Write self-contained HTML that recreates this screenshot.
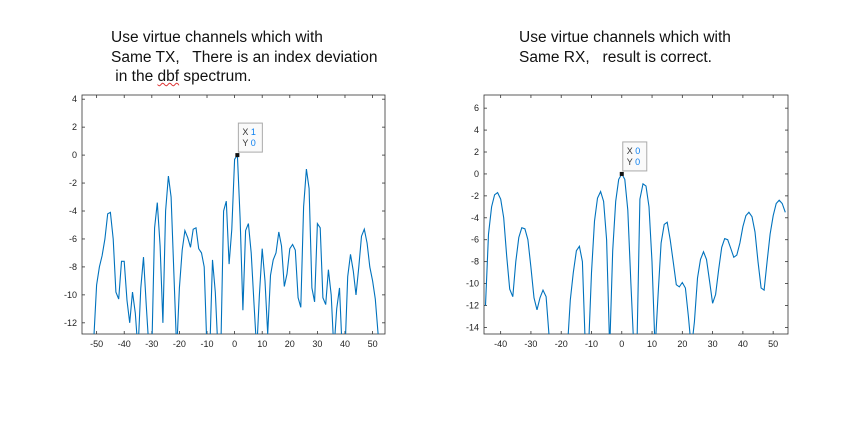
<!DOCTYPE html>
<html><head><meta charset="utf-8"><style>
body{margin:0;background:#fff;width:851px;height:421px;overflow:hidden;font-family:"Liberation Sans","Noto Sans CJK SC",sans-serif}
.t{position:absolute;font-size:15.5px;color:#111;line-height:19.5px;white-space:pre}
</style></head><body>
<div class="t" style="left:111px;top:28px">Use virtue channels which with
Same TX,   There is an index deviation
 in the <span style="text-decoration:underline wavy #d33;text-decoration-thickness:1px">dbf</span> spectrum.</div>
<div class="t" style="left:519px;top:28px">Use virtue channels which with
Same RX,   result is correct.</div>
<svg id="svg" width="851" height="421" style="position:absolute;left:0;top:0" font-family="Liberation Sans, sans-serif"></svg>
<script>
const leftX=[-51,-50,-49,-48,-47,-46,-45,-44,-43,-42,-41,-40,-39,-38,-37,-36,-35,-34,-33,-32,-31,-30,-29,-28,-27,-26,-25,-24,-23,-22,-21,-20,-19,-18,-17,-16,-15,-14,-13,-12,-11,-10,-9,-8,-7,-6,-5,-4,-3,-2,-1,0,1,2,3,4,5,6,7,8,9,10,11,12,13,14,15,16,17,18,19,20,21,22,23,24,25,26,27,28,29,30,31,32,33,34,35,36,37,38,39,40,41,42,43,44,45,46,47,48,49,50,51,52,53];
const leftY=[-13,-9.3,-8,-7.2,-6,-4.2,-4.1,-6,-9.8,-10.3,-7.6,-7.6,-10.4,-12,-9.8,-11.3,-14,-9.5,-7.3,-10.8,-14,-14,-5.2,-3.4,-6.5,-12,-4,-1.5,-3,-8.5,-14,-9.5,-6.8,-5.4,-5.9,-6.6,-5.3,-5.2,-6.7,-7,-8,-14,-14,-7.5,-9.8,-14,-14,-4,-3.3,-7.8,-5.3,-0.3,0,-4.5,-11.1,-5.4,-4.9,-7,-10.5,-14,-10,-6.7,-9,-12.8,-8.6,-7.5,-7,-5.5,-6.5,-9.4,-8.5,-6.7,-6.4,-6.8,-10.2,-10.9,-3.7,-1,-2.4,-9.5,-10.5,-4.9,-5.2,-10.2,-10.7,-8.2,-10,-14,-11,-9.5,-14,-14,-8.7,-7.1,-8.3,-10,-8,-5.8,-5.3,-6.3,-8,-9,-10.3,-12.8,-14];
const rightX=[-45,-44,-43,-42,-41,-40,-39,-38,-37,-36,-35,-34,-33,-32,-31,-30,-29,-28,-27,-26,-25,-24,-23,-22,-21,-20,-19,-18,-17,-16,-15,-14,-13,-12,-11,-10,-9,-8,-7,-6,-5,-4,-3,-2,-1,0,1,2,3,4,5,6,7,8,9,10,11,12,13,14,15,16,17,18,19,20,21,22,23,24,25,26,27,28,29,30,31,32,33,34,35,36,37,38,39,40,41,42,43,44,45,46,47,48,49,50,51,52,53,54];
const rightY=[-12,-5.5,-3,-1.9,-1.7,-2.3,-4,-7.5,-10.5,-11.2,-8,-5.8,-4.9,-5,-6,-8.5,-11.3,-12.4,-11.3,-10.6,-11.2,-14.8,-16,-16,-16,-16,-16,-16,-11.5,-9,-7,-6.6,-8,-16,-16,-9,-4.3,-2.2,-1.6,-2.5,-6,-16,-7,-2.5,-0.5,0,-0.5,-3.3,-10,-16,-16,-2.3,-0.9,-1.1,-3,-8,-16,-11,-6.3,-4.6,-4.4,-6,-8,-10.1,-10.3,-9.9,-10.4,-13,-16,-13.5,-9.5,-7.8,-7.1,-7.8,-9.8,-11.8,-11,-8.7,-6.7,-5.9,-6,-6.8,-7.6,-7.4,-6.3,-4.8,-3.8,-3.5,-3.9,-5.3,-8,-10.4,-10.6,-8,-5.5,-3.8,-2.7,-2.4,-2.7,-3.5];
const leftXTicks=[-50,-40,-30,-20,-10,0,10,20,30,40,50];
const leftYTicks=[4,2,0,-2,-4,-6,-8,-10,-12];
const rightXTicks=[-40,-30,-20,-10,0,10,20,30,40,50];
const rightYTicks=[6,4,2,0,-2,-4,-6,-8,-10,-12,-14];
const NS='http://www.w3.org/2000/svg';
const svg=document.getElementById('svg');
function mk(tag,attrs,parent){const e=document.createElementNS(NS,tag);for(const k in attrs)e.setAttribute(k,attrs[k]);(parent||svg).appendChild(e);return e;}
function chart(id,box,xd,yd,xs,ys,xt,yt,tipX,tipY,tipLabel){
  const sx=v=>box.l+(v-xd[0])/(xd[1]-xd[0])*(box.r-box.l);
  const sy=v=>box.b-(v-yd[0])/(yd[1]-yd[0])*(box.b-box.t);
  const g=mk('g',{});
  
  
  const cp=mk('clipPath',{id:id+'clip'},g);mk('rect',{x:box.l,y:box.t,width:box.r-box.l,height:box.b-box.t},cp);
  const fr=mk('rect',{x:box.l,y:box.t,width:box.r-box.l,height:box.b-box.t,fill:'none',stroke:'#333','stroke-width':0.8},g);
  
  
  xt.forEach(v=>{const x=sx(v);
    mk('line',{x1:x,x2:x,y1:box.b,y2:box.b-3,stroke:'#333','stroke-width':0.8},g);
    mk('line',{x1:x,x2:x,y1:box.t,y2:box.t+3,stroke:'#333','stroke-width':0.8},g);
    const t=mk('text',{x:x,y:box.b+13,'font-size':9,'text-anchor':'middle',fill:'#222'},g);t.textContent=v;
    
    });
  yt.forEach(v=>{const y=sy(v);
    mk('line',{x1:box.l,x2:box.l+3,y1:y,y2:y,stroke:'#333','stroke-width':0.8},g);
    mk('line',{x1:box.r,x2:box.r-3,y1:y,y2:y,stroke:'#333','stroke-width':0.8},g);
    const t=mk('text',{x:box.l-5,y:y+3,'font-size':9,'text-anchor':'end',fill:'#222'},g);t.textContent=v;
    
    });
  const d=xs.map((v,i)=>(i?'L':'M')+sx(v).toFixed(1)+','+sy(ys[i]).toFixed(1)).join('');
  const p=mk('path',{d:d,fill:'none',stroke:'#0072BD','stroke-width':1.1,'clip-path':'url(#'+id+'clip)'},g);
  
  
  const px=sx(tipX),py=sy(tipY);
  mk('rect',{x:px-2,y:py-2,width:4,height:4,fill:'#111'},g);
  const tg=mk('g',{},g);
  
  
  mk('rect',{x:px+1,y:py-32,width:24,height:29,fill:'#fafafa',stroke:'#aaa','stroke-width':1},tg);
  const a=mk('text',{x:px+5,y:py-20,'font-size':9,fill:'#333'},tg);a.innerHTML='X <tspan fill="#0a7ff0">'+tipLabel+'</tspan>';
  const b=mk('text',{x:px+5,y:py-9,'font-size':9,fill:'#333'},tg);b.innerHTML='Y <tspan fill="#0a7ff0">'+tipY+'</tspan>';
}
chart('left',{l:82,r:385,t:95,b:334},[-55.3,54.5],[-12.8,4.3],leftX,leftY,leftXTicks,leftYTicks,1,0,1);
chart('right',{l:484,r:788,t:95,b:334},[-45.5,54.9],[-14.6,7.2],rightX,rightY,rightXTicks,rightYTicks,0,0,0);
</script>
</body></html>
